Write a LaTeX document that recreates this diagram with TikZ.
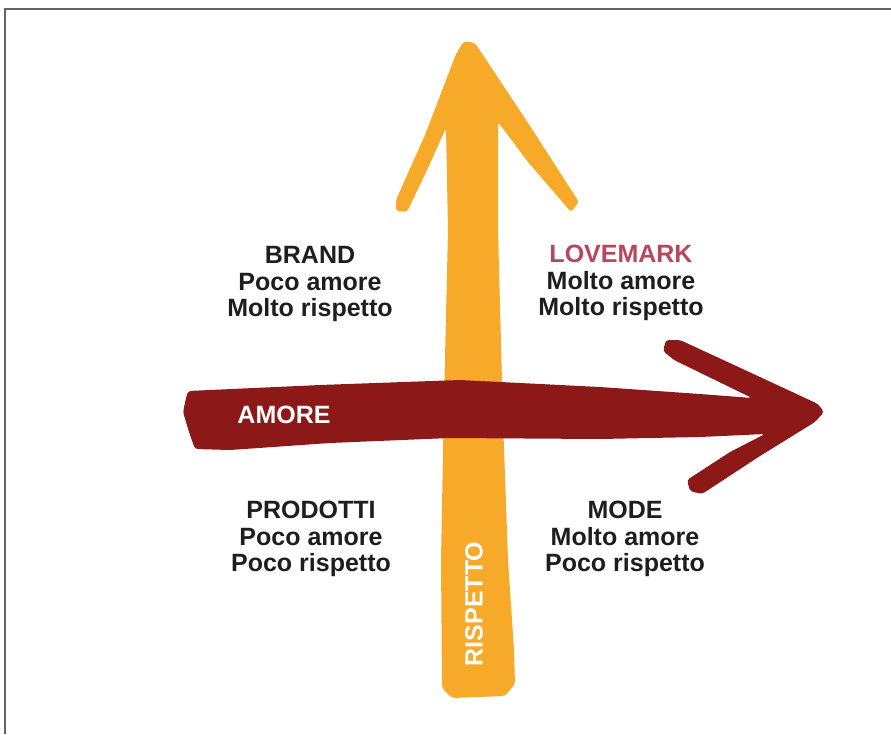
\documentclass[tikz,border=0pt]{standalone}
\usepackage{fontspec}
\setmainfont{Liberation Sans}
\definecolor{arrowred}{RGB}{140,24,24}
\definecolor{arrowyellow}{RGB}{247,170,42}
\definecolor{lovered}{RGB}{183,70,94}
\definecolor{txtdark}{RGB}{30,30,30}
\definecolor{framegray}{RGB}{100,100,100}
\tikzset{
  quad/.style={align=center, inner sep=0pt, text=txtdark, font=\fontsize{25}{26.5}\selectfont\bfseries},
  axislabel/.style={inner sep=0pt, text=white, font=\fontsize{25}{27}\selectfont\bfseries},
}
\begin{document}
\begin{tikzpicture}[x=1pt,y=-1pt]
\useasboundingbox (0,0) rectangle (891,734);
\fill[white] (0,0) rectangle (891,734);
% frame
\draw[framegray, line width=1.4pt] (5,734) -- (5,9) -- (891,9);
% yellow arrow (rispetto)
\fill[arrowyellow, rounded corners=3pt]
  (464,41) -- (475,43) -- (530,126) -- (579,202) -- (571,212) -- (528,162) -- (498,122)
  -- (498,230) -- (503,420) -- (508,560) -- (514,650) -- (515,684) -- (505,696)
  -- (452,698) -- (442,688) -- (441,560) -- (444,400) -- (448,230) -- (446,128)
  -- (428,168) -- (407,212) -- (396,211) -- (396,200) -- (425,135) -- (456,54) -- cycle;
% red arrow (amore)
\fill[arrowred, rounded corners=3pt]
  (188,391) -- (320,385) -- (460,380) -- (600,387) -- (700,394) -- (752,398)
  -- (674,360) -- (663,351) -- (666,340) -- (680,340) -- (760,377) -- (818,404) -- (824,412)
  -- (815,422) -- (760,456) -- (702,494) -- (690,491) -- (687,480) -- (730,452) -- (765,434)
  -- (700,437) -- (600,439) -- (450,438) -- (330,443) -- (230,450) -- (195,449)
  -- (189,432) -- (183,412) -- (186,398) -- cycle;
% labels
\node[axislabel] (amore) at (284,415) {AMORE};
\node[axislabel, rotate=90] (rispetto) at (474,604) {RISPETTO};
\node[quad] (brand) at (310,284) {BRAND\\Poco amore\\Molto rispetto};
\node[quad] (lovemark) at (621,283) {\textcolor{lovered}{LOVEMARK}\\Molto amore\\Molto rispetto};
\node[quad] (prodotti) at (311,539) {PRODOTTI\\Poco amore\\Poco rispetto};
\node[quad] (mode) at (625,539) {MODE\\Molto amore\\Poco rispetto};
\end{tikzpicture}
\end{document}
